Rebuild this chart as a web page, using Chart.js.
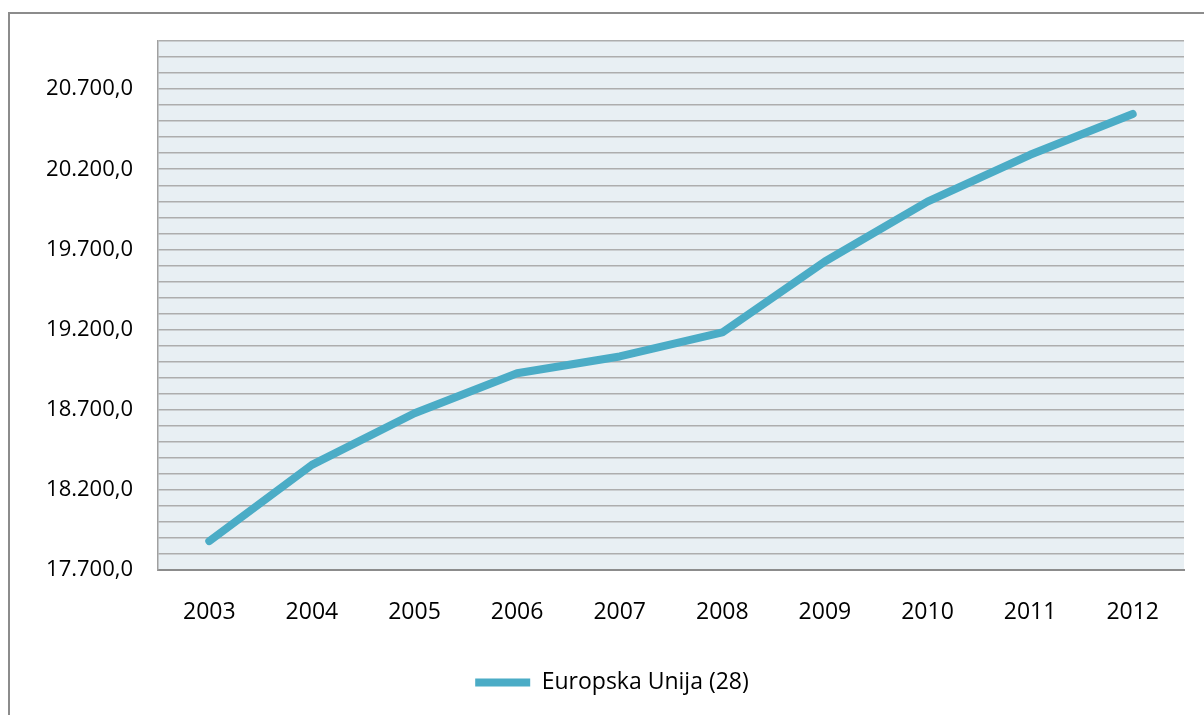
<!DOCTYPE html>
<html>
<head>
<meta charset="utf-8">
<script src="https://cdn.jsdelivr.net/npm/chart.js@4.4.1/dist/chart.umd.min.js"></script>
<style>
    html, body { margin: 0; padding: 0; background: #ffffff; overflow: hidden; }
    #wrap { position: relative; width: 1204px; height: 715px; }
    #frame {
        position: absolute; left: 8px; top: 12px; width: 1400px; height: 900px;
        border-left: 2px solid #8c8c8c; border-top: 2px solid #8c8c8c;
        pointer-events: none;
    }
</style>
</head>
<body>
<div id="wrap">
    <canvas id="chart" width="1204" height="715"></canvas>
    <div id="frame"></div>
</div>
<script>
const years = ["2003", "2004", "2005", "2006", "2007", "2008", "2009", "2010", "2011", "2012"];
const euValues = [17880, 18356, 18678, 18927, 19032, 19182, 19624, 19998, 20290, 20545];
const seriesName = "Europska Unija (28)";
const yMin = 17700;
const yMax = 21000;
const yLabelStep = 500;

const lineColor = "#4bacc6";
const fontFamily = "'Open Sans', 'Liberation Sans', sans-serif";

// Format like 20.700,0
function formatValue(v) {
    const whole = Math.round(v).toString().replace(/\B(?=(\d{3})+(?!\d))/g, ".");
    return whole + ",0";
}

// Paint the plot background
const plotBackground = {
    id: "plotBackground",
    beforeDraw(chart) {
        const area = chart.chartArea;
        const ctx = chart.ctx;
        ctx.save();
        ctx.fillStyle = "#e8eff3";
        ctx.fillRect(area.left, area.top, area.right - area.left, area.bottom - area.top);
        ctx.restore();
    }
};

const ctx = document.getElementById("chart").getContext("2d");

new Chart(ctx, {
    type: "line",
    data: {
        labels: years,
        datasets: [{
            label: seriesName,
            data: euValues,
            borderColor: lineColor,
            backgroundColor: lineColor,
            borderWidth: 8,
            borderCapStyle: "round",
            borderJoinStyle: "round",
            pointRadius: 0,
            tension: 0
        }]
    },
    plugins: [plotBackground],
    options: {
        responsive: false,
        animation: false,
        layout: {
            padding: { left: 40, right: 20, top: 41, bottom: 11 }
        },
        plugins: {
            tooltip: { enabled: false },
            legend: {
                display: true,
                position: "bottom",
                labels: {
                    usePointStyle: true,
                    pointStyle: "line",
                    pointStyleWidth: 55,
                    color: "#000000",
                    padding: 10,
                    font: { family: fontFamily, size: 23 }
                }
            }
        },
        scales: {
            x: {
                offset: true,
                grid: { display: false, drawTicks: false },
                border: { display: true, color: "#8c8c8c", width: 2 },
                ticks: {
                    color: "#000000",
                    padding: 29,
                    maxRotation: 0,
                    font: { family: fontFamily, size: 23 }
                },
                afterFit(scale) {
                    scale.height = 91;
                }
            },
            y: {
                min: yMin,
                max: yMax,
                grid: {
                    color: "#adadad",
                    lineWidth: 1.5,
                    drawTicks: false
                },
                border: { display: true, color: "#a0a0a0", width: 1.5 },
                ticks: {
                    stepSize: 100,
                    autoSkip: false,
                    color: "#000000",
                    padding: 25,
                    font: { family: fontFamily, size: 22 },
                    callback: (value) => ((value - yMin) % yLabelStep === 0 ? formatValue(value) : "")
                },
                afterFit(scale) {
                    scale.width = 118;
                }
            }
        }
    }
});
</script>
</body>
</html>
